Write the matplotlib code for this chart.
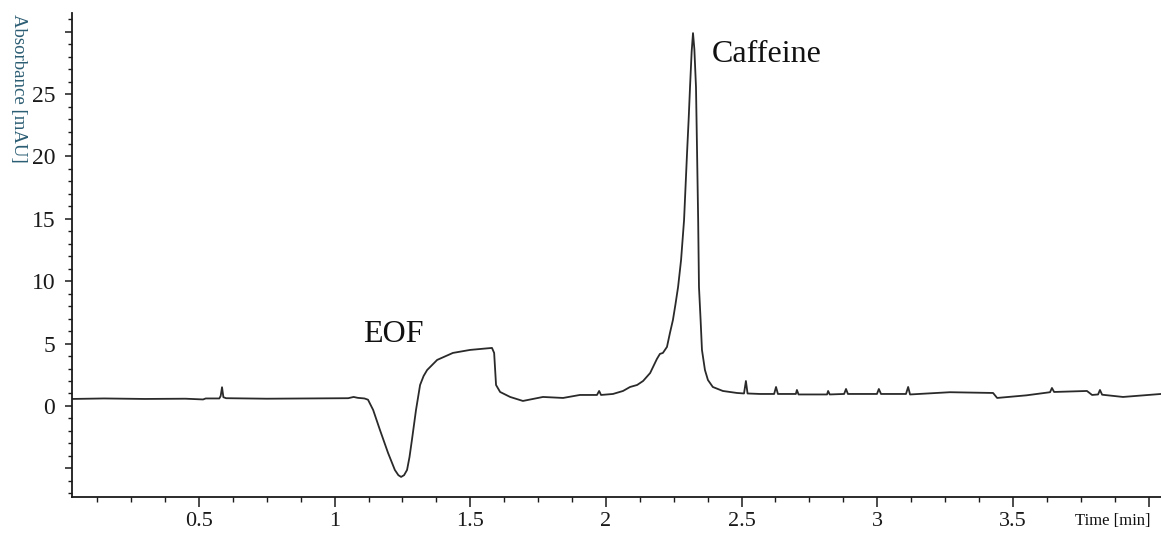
import matplotlib
matplotlib.use("Agg")
import matplotlib.pyplot as plt
from matplotlib.ticker import MultipleLocator, FixedLocator, FixedFormatter

# ---- data ----
time_min = [0.032, 0.15, 0.30, 0.45, 0.515, 0.525, 0.575, 0.580, 0.585, 0.590, 0.600,
            0.75, 0.90, 1.05, 1.07, 1.085, 1.11,
            1.123, 1.142, 1.167, 1.197, 1.222, 1.235, 1.245, 1.256, 1.267, 1.276,
            1.285, 1.300, 1.315, 1.328,
            1.341, 1.378, 1.436, 1.499, 1.554, 1.580, 1.588, 1.595, 1.610, 1.647,
            1.694, 1.768, 1.842, 1.904, 1.967, 1.975, 1.982, 2.026, 2.063, 2.089,
            2.115, 2.137, 2.163, 2.188, 2.199, 2.210, 2.225, 2.236, 2.247, 2.256,
            2.266, 2.277, 2.288, 2.299, 2.305, 2.310, 2.316, 2.321, 2.326, 2.332,
            2.336, 2.340, 2.343, 2.349, 2.354, 2.365,
            2.376, 2.394, 2.431, 2.483, 2.509, 2.516, 2.522, 2.568, 2.620, 2.627,
            2.634, 2.700, 2.704, 2.710, 2.815, 2.819, 2.825, 2.878, 2.885, 2.892,
            2.999, 3.006, 3.014, 3.106, 3.114, 3.121, 3.268, 3.427, 3.442, 3.55,
            3.637, 3.644, 3.652, 3.773, 3.792, 3.814, 3.821, 3.829, 3.906, 4.046]
absorbance_mAU = [0.56, 0.60, 0.56, 0.58, 0.52, 0.60, 0.60, 0.80, 1.50, 0.70, 0.62,
                  0.58, 0.60, 0.62, 0.72, 0.65, 0.60,
                  0.50, -0.32, -1.92, -3.77, -5.13, -5.55, -5.69, -5.55, -5.13, -4.10,
                  -2.72, -0.32, 1.68, 2.40,
                  2.88, 3.69, 4.25, 4.49, 4.60, 4.65, 4.25, 1.68, 1.12, 0.72,
                  0.40, 0.72, 0.64, 0.88, 0.88, 1.20, 0.88, 0.96, 1.20, 1.52,
                  1.68, 2.00, 2.64, 3.77, 4.17, 4.25, 4.73, 5.85, 6.89, 8.10,
                  9.54, 11.70, 14.90, 20.27, 23.00, 25.56, 28.40, 29.89, 28.60, 25.56,
                  20.30, 14.90, 9.54, 6.89, 4.49, 2.88,
                  2.08, 1.52, 1.20, 1.04, 1.00, 2.00, 1.00, 0.96, 0.96, 1.52,
                  0.96, 0.96, 1.28, 0.92, 0.92, 1.20, 0.92, 0.96, 1.36, 0.96,
                  0.96, 1.36, 0.96, 0.96, 1.52, 0.92, 1.10, 1.04, 0.64, 0.85,
                  1.10, 1.44, 1.12, 1.20, 0.88, 0.92, 1.28, 0.90, 0.72, 0.96]

x_major = [0.5, 1.0, 1.5, 2.0, 2.5, 3.0, 3.5, 4.0]
x_labels = ["0.5", "1", "1.5", "2", "2.5", "3", "3.5", ""]
y_major = [-5, 0, 5, 10, 15, 20, 25, 30]
y_labels = ["", "0", "5", "10", "15", "20", "25", ""]

peak_names = ["EOF", "Caffeine"]
peak_label_pos = [(1.105, 5.13), (2.391, 27.6)]

serif = ["Liberation Serif", "DejaVu Serif"]
ink = "#1a1a1a"

fig = plt.figure(figsize=(11.61, 5.33), dpi=100)
fig.patch.set_facecolor("white")
ax = fig.add_axes([72 / 1161, 36 / 533, 1089 / 1161, 484 / 533])

ax.plot(time_min, absorbance_mAU, color="#2a2a2a", lw=1.3, solid_joinstyle="round")

ax.set_xlim(0.032, 4.046)
ax.set_ylim(-7.3, 31.5)

for s in ("top", "right"):
    ax.spines[s].set_visible(False)
for s in ("left", "bottom"):
    ax.spines[s].set_linewidth(1.3)
    ax.spines[s].set_color(ink)

ax.xaxis.set_major_locator(FixedLocator(x_major))
ax.xaxis.set_major_formatter(FixedFormatter(x_labels))
ax.xaxis.set_minor_locator(MultipleLocator(0.125))
ax.yaxis.set_major_locator(FixedLocator(y_major))
ax.yaxis.set_major_formatter(FixedFormatter(y_labels))
ax.yaxis.set_minor_locator(MultipleLocator(1))

ax.tick_params(axis="x", which="major", direction="out", length=7, width=1.1,
               color=ink, pad=4, labelsize=16, labelcolor=ink)
ax.tick_params(axis="x", which="minor", direction="out", length=3.5, width=1.0, color=ink)
ax.tick_params(axis="y", which="major", direction="out", length=5, width=1.1,
               color=ink, pad=7, labelsize=17, labelcolor=ink)
ax.tick_params(axis="y", which="minor", direction="out", length=3, width=1.0, color=ink)
for lab in ax.get_xticklabels() + ax.get_yticklabels():
    lab.set_family(serif)

for name, (tx, ty) in zip(peak_names, peak_label_pos):
    ax.text(tx, ty, name, family=serif, fontsize=23, color="#111111",
            ha="left", va="baseline")

fig.text(18 / 1161, 1 - 88 / 533, "Absorbance [mAU]", rotation=270, family=serif,
         fontsize=13.5, color="#2b5d73", ha="center", va="center")
fig.text(1113 / 1161, 1 - 521 / 533, "Time [min]", family=serif, fontsize=12,
         color="#111111", ha="center", va="center")

fig.savefig("out.png", dpi=100, facecolor="white")
